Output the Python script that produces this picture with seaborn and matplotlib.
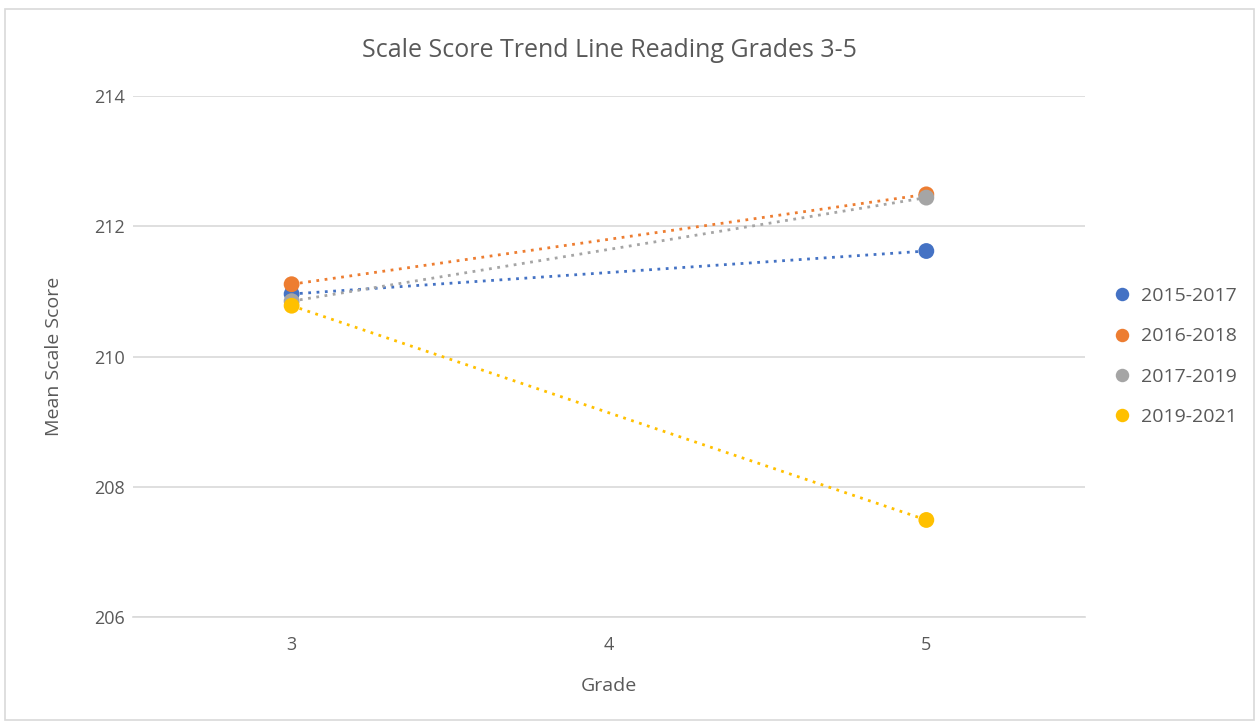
import matplotlib
matplotlib.use("Agg")
import matplotlib.pyplot as plt
import seaborn as sns
import pandas as pd

grades = [3, 5]
cohorts = ["2015-2017", "2016-2018", "2017-2019", "2019-2021"]
scores_2015 = [210.96, 211.62]
scores_2016 = [211.11, 212.49]
scores_2017 = [210.85, 212.44]
scores_2019 = [210.78, 207.49]
colors = ["#4472C4", "#ED7D31", "#A5A5A5", "#FFC000"]

rows = []
for name, vals in zip(cohorts, [scores_2015, scores_2016, scores_2017, scores_2019]):
    for g, v in zip(grades, vals):
        rows.append({"Grade": g, "Score": v, "Cohort": name})
df = pd.DataFrame(rows)

sns.set_style("white")
plt.rcParams["font.family"] = ["Open Sans", "DejaVu Sans"]
txt = "#595959"

fig = plt.figure(figsize=(12.59, 7.23), dpi=100)
ax = fig.add_axes([0.1056, 0.1466, 0.7562, 0.7206])
pal = dict(zip(cohorts, colors))

sns.lineplot(data=df, x="Grade", y="Score", hue="Cohort", hue_order=cohorts,
             palette=pal, linestyle=(0, (1, 2)), linewidth=2, legend=False, ax=ax)
sns.scatterplot(data=df, x="Grade", y="Score", hue="Cohort", hue_order=cohorts,
                palette=pal, s=130, edgecolor="none", ax=ax, zorder=3)

ax.set_xlim(2.5, 5.5)
ax.set_ylim(206, 214)
ax.set_xticks([3, 4, 5])
ax.set_yticks([206, 208, 210, 212, 214])
ax.grid(axis="y", color="#D9D9D9", linewidth=1.2)
ax.set_axisbelow(True)
for s in ["top", "right", "left"]:
    ax.spines[s].set_visible(False)
ax.spines["bottom"].set_color("#D9D9D9")
ax.spines["bottom"].set_linewidth(1.2)
ax.tick_params(length=0, labelsize=13, labelcolor=txt, pad=14)
ax.tick_params(axis="y", pad=6)
ax.set_xlabel("Grade", fontsize=14, color=txt, labelpad=16)
ax.set_ylabel("Mean Scale Score", fontsize=14, color=txt, labelpad=22)
ax.set_title("Scale Score Trend Line Reading Grades 3-5", fontsize=18, color=txt, pad=28)

leg = ax.legend(loc="center left", bbox_to_anchor=(1.0, 0.5), frameon=False,
                fontsize=14, labelspacing=1.15, handletextpad=0.0, markerscale=0.85)
for t in leg.get_texts():
    t.set_color(txt)

fig.patches.append(plt.Rectangle((0.004, 0.004), 0.992, 0.984, transform=fig.transFigure,
                                 fill=False, edgecolor="#D9D9D9", linewidth=1.2))

fig.savefig("out.png", dpi=100)
